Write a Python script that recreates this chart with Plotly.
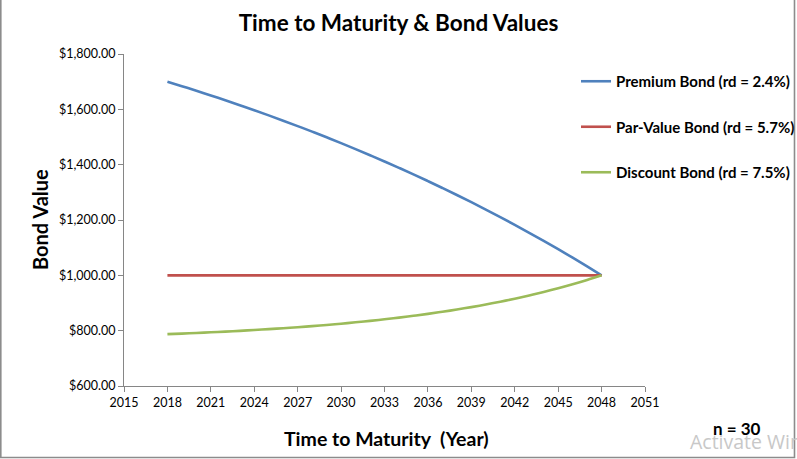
import plotly.graph_objects as go

years = list(range(2018, 2049))
premium_values = [1700.00, 1683.80, 1667.21, 1650.23, 1632.83, 1615.02, 1596.78, 1578.10,
                  1558.98, 1539.39, 1519.34, 1498.80, 1477.77, 1456.24, 1434.19, 1411.61,
                  1388.49, 1364.81, 1340.56, 1315.74, 1290.32, 1264.29, 1237.63, 1210.33,
                  1182.38, 1153.76, 1124.45, 1094.44, 1063.70, 1032.23, 1000.00]
par_values = [1000.00] * 31
discount_values = [787.41, 789.47, 791.68, 794.06, 796.61, 799.36, 802.31, 805.48,
                   808.89, 812.56, 816.50, 820.74, 825.29, 830.19, 835.45, 841.11,
                   847.19, 853.73, 860.76, 868.32, 876.45, 885.18, 894.57, 904.66,
                   915.51, 927.17, 939.71, 953.19, 967.68, 983.26, 1000.00]
series_names = ["Premium Bond (rd = 2.4%)", "Par-Value Bond (rd = 5.7%)", "Discount Bond (rd = 7.5%)"]
series_colors = ["#4F81BD", "#C0504D", "#9BBB59"]

FONT = "Lato, 'Liberation Sans', sans-serif"

fig = go.Figure()
for i, (name, vals, col) in enumerate(zip(series_names, [premium_values, par_values, discount_values], series_colors)):
    fig.add_trace(go.Scatter(x=years, y=vals, mode="lines", name=f"<b>{name}</b>",
                             legendgroup=f"g{i}",
                             line=dict(color=col, width=2.6, shape="spline")))

axis_col = "#868686"
fig.update_layout(
    width=797, height=459,
    margin=dict(l=124, r=152, t=54, b=73, autoexpand=False),
    paper_bgcolor="white", plot_bgcolor="white",
    font=dict(family=FONT, color="black", size=12),
    title=dict(text="<b>Time to Maturity & Bond Values</b>", x=0.5, xanchor="center",
               y=1 - 23 / 459, yanchor="middle", font=dict(size=22.5, family=FONT)),
    xaxis=dict(range=[2015, 2051], tick0=2015, dtick=3, showgrid=False, zeroline=False,
               showline=True, linecolor=axis_col, linewidth=1, ticks="outside", ticklen=5,
               tickcolor=axis_col, tickfont=dict(size=12.5, family=FONT)),
    yaxis=dict(range=[600, 1800], dtick=200, showgrid=False, zeroline=False,
               showline=True, linecolor=axis_col, linewidth=1, ticks="outside", ticklen=5,
               tickcolor=axis_col, tickformat="$,.2f", tickfont=dict(size=12.5, family=FONT)),
    legend=dict(x=(576 - 124) / 521, y=(386 - 65) / 332, xanchor="left", yanchor="top",
                font=dict(size=15, family=FONT, color="black"), tracegroupgap=23,
                bgcolor="rgba(0,0,0,0)", itemwidth=30),
    showlegend=True,
)

fig.add_annotation(text="<b>Bond Value</b>", xref="paper", yref="paper",
                   x=(40 - 124) / 521, y=(386 - 220) / 332, textangle=-90,
                   showarrow=False, font=dict(size=20, family=FONT), xanchor="center", yanchor="middle")
fig.add_annotation(text="<b>Time to Maturity  (Year)</b>", xref="paper", yref="paper",
                   x=(386 - 124) / 521, y=(386 - 438) / 332,
                   showarrow=False, font=dict(size=19.5, family=FONT), xanchor="center", yanchor="middle")
fig.add_annotation(text="Activate Windows", xref="paper", yref="paper",
                   x=(688 - 124) / 521, y=(386 - 441) / 332,
                   showarrow=False, font=dict(size=19.5, family="'Open Sans', sans-serif", color="#c8c8c8"),
                   xanchor="left", yanchor="middle")
fig.add_annotation(text="<b>n = 30</b>", xref="paper", yref="paper",
                   x=(737 - 124) / 521, y=(386 - 428) / 332,
                   showarrow=False, font=dict(size=17, family=FONT), xanchor="center", yanchor="middle")

# outer chart border (left, bottom, right)
x_left = (0.8 - 124) / 521
x_right = (794.5 - 124) / 521
y_bottom = (386 - 457.5) / 332
y_top = (386 + 10) / 332
fig.add_shape(type="path", xref="paper", yref="paper",
              path=f"M {x_left} {y_top} L {x_left} {y_bottom} L {x_right} {y_bottom} L {x_right} {y_top}",
              line=dict(color="#8c8c8c", width=1.6))

fig.write_html("out.html", config={"displayModeBar": False},
               post_script="document.body.style.margin='0';document.body.style.overflow='hidden';")
